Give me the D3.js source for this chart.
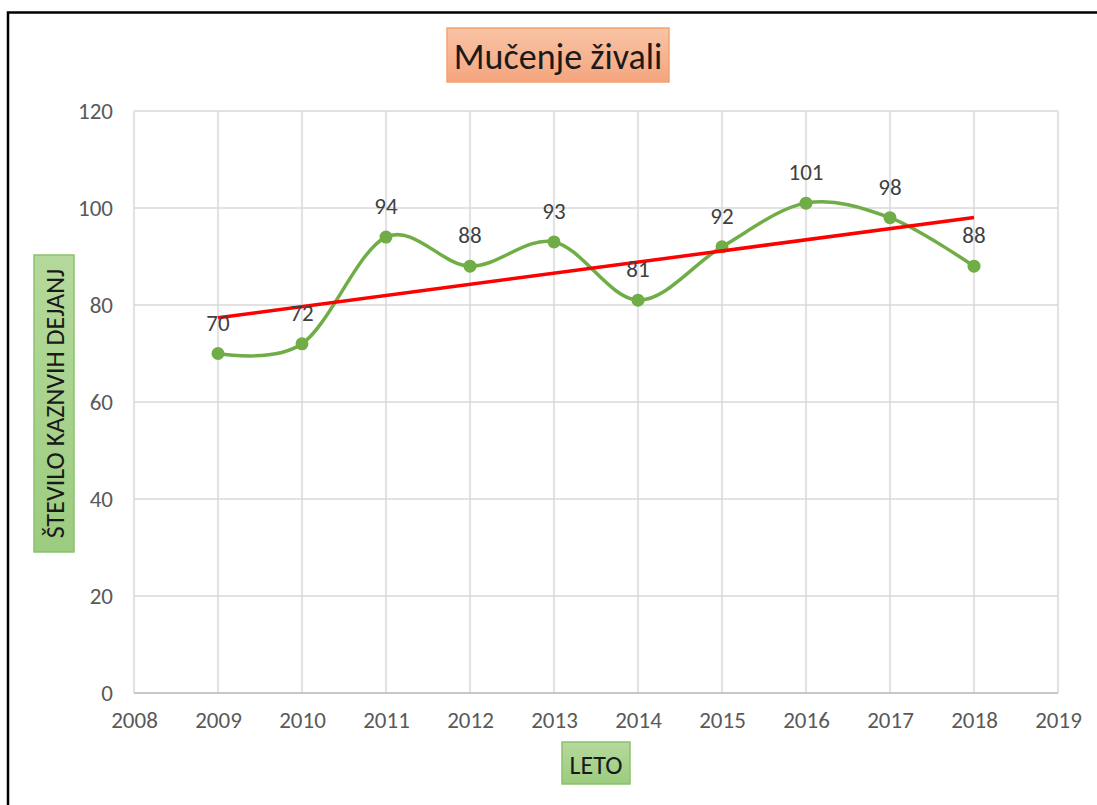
<!DOCTYPE html>
<html>
<head>
<meta charset="utf-8">
<script src="https://cdn.jsdelivr.net/npm/d3@7"></script>
<style>
  body { margin: 0; background: #fff; }
  svg { display: block; font-family: Calibri, Carlito, "Open Sans", "Noto Sans", sans-serif; }
</style>
</head>
<body>
<svg width="1097" height="805"></svg>
<script>
// data
const years = [2009, 2010, 2011, 2012, 2013, 2014, 2015, 2016, 2017, 2018];
const counts = [70, 72, 94, 88, 93, 81, 92, 101, 98, 88];
const yTicks = [0, 20, 40, 60, 80, 100, 120];
const xTicks = [2008, 2009, 2010, 2011, 2012, 2013, 2014, 2015, 2016, 2017, 2018, 2019];
const title = "Mučenje živali";
const xTitle = "LETO";
const yTitle = "ŠTEVILO KAZNVIH DEJANJ";

const svg = d3.select("svg");
const W = 1097, H = 805;
const m = { left: 134, right: 1058, top: 111, bottom: 693 };

const x = d3.scaleLinear().domain([2008, 2019]).range([m.left, m.right]);
const y = d3.scaleLinear().domain([0, 120]).range([m.bottom, m.top]);

// gradients for the label boxes
const defs = svg.append("defs");
function grad(id, c1, c2) {
  const g = defs.append("linearGradient").attr("id", id)
    .attr("x1", 0).attr("y1", 0).attr("x2", 0).attr("y2", 1);
  g.append("stop").attr("offset", "0%").attr("stop-color", c1);
  g.append("stop").attr("offset", "100%").attr("stop-color", c2);
}
grad("gTitle", "#f9c4a6", "#f4a57e");
grad("gGreen", "#b5d99c", "#9ccc7f");

// outer frame (only left and top edges visible)
svg.append("path")
  .attr("d", `M8,${H + 10} L8,12.5 L${W + 10},12.5`)
  .attr("fill", "none").attr("stroke", "#000").attr("stroke-width", 2.5);

// grid
const grid = svg.append("g");
grid.selectAll(".hg").data(yTicks).enter().append("line")
  .attr("x1", m.left).attr("x2", m.right)
  .attr("y1", d => y(d)).attr("y2", d => y(d))
  .attr("stroke", "#d9d9d9").attr("stroke-width", 1.5);
grid.selectAll(".vg").data(xTicks).enter().append("line")
  .attr("x1", d => x(d)).attr("x2", d => x(d))
  .attr("y1", m.top).attr("y2", m.bottom)
  .attr("stroke", "#d9d9d9").attr("stroke-width", 1.5);

// axes
const yAxis = svg.append("g").attr("transform", `translate(${m.left},0)`)
  .call(d3.axisLeft(y).tickValues(yTicks).tickSize(0).tickPadding(21));
const xAxis = svg.append("g").attr("transform", `translate(0,${m.bottom})`)
  .call(d3.axisBottom(x).tickValues(xTicks).tickFormat(d3.format("d")).tickSize(0).tickPadding(19));
[yAxis, xAxis].forEach(a => {
  a.select(".domain").remove();
  a.selectAll("text").attr("fill", "#595959").style("font-size", "23px")
    .style("font-family", "Calibri, Carlito, 'Open Sans', 'Noto Sans', sans-serif");
});
svg.append("line").attr("x1", m.left).attr("x2", m.right)
  .attr("y1", m.bottom).attr("y2", m.bottom)
  .attr("stroke", "#bfbfbf").attr("stroke-width", 1.5);

const pts = years.map((yr, i) => [yr, counts[i]]);

// linear trendline (least squares of the series)
const mx = d3.mean(years), my = d3.mean(counts);
const slope = d3.sum(pts, p => (p[0] - mx) * (p[1] - my)) / d3.sum(years, v => (v - mx) ** 2);
const trend = [years[0], years[years.length - 1]].map(v => [v, my + slope * (v - mx)]);

// smoothed series line
const line = d3.line().x(d => x(d[0])).y(d => y(d[1])).curve(d3.curveCatmullRom.alpha(0));
svg.append("path").datum(pts).attr("d", line)
  .attr("fill", "none").attr("stroke", "#70ad47").attr("stroke-width", 3.5);

svg.selectAll(".dot").data(pts).enter().append("circle")
  .attr("cx", d => x(d[0])).attr("cy", d => y(d[1])).attr("r", 6.5)
  .attr("fill", "#70ad47");

svg.append("path").datum(trend)
  .attr("d", d3.line().x(d => x(d[0])).y(d => y(d[1])))
  .attr("fill", "none").attr("stroke", "#ff0000").attr("stroke-width", 3.5);

svg.selectAll(".lbl").data(pts).enter().append("text")
  .attr("x", d => x(d[0])).attr("y", d => y(d[1]) - 23)
  .attr("text-anchor", "middle").attr("fill", "#404040")
  .style("font-size", "23px").text(d => d[1]);

// title box
svg.append("rect").attr("x", 447).attr("y", 28).attr("width", 222).attr("height", 54)
  .attr("fill", "url(#gTitle)").attr("stroke", "#f4a26f").attr("stroke-width", 1.5);
svg.append("text").attr("x", 558).attr("y", 57).attr("text-anchor", "middle")
  .attr("dominant-baseline", "central").attr("fill", "#1a1a1a")
  .style("font-size", "36px").text(title);

// x-axis title box
svg.append("rect").attr("x", 562).attr("y", 742).attr("width", 68).attr("height", 42)
  .attr("fill", "url(#gGreen)").attr("stroke", "#8cc16b").attr("stroke-width", 1.5);
svg.append("text").attr("x", 596).attr("y", 765).attr("text-anchor", "middle")
  .attr("dominant-baseline", "central").attr("fill", "#1a1a1a")
  .style("font-size", "26px").text(xTitle);

// y-axis title box
svg.append("rect").attr("x", 34).attr("y", 255).attr("width", 40).attr("height", 297)
  .attr("fill", "url(#gGreen)").attr("stroke", "#8cc16b").attr("stroke-width", 1.5);
svg.append("text").attr("transform", "translate(55,403.5) rotate(-90)")
  .attr("text-anchor", "middle").attr("dominant-baseline", "central").attr("fill", "#1a1a1a")
  .style("font-size", "26px").text(yTitle);
</script>
</body>
</html>
